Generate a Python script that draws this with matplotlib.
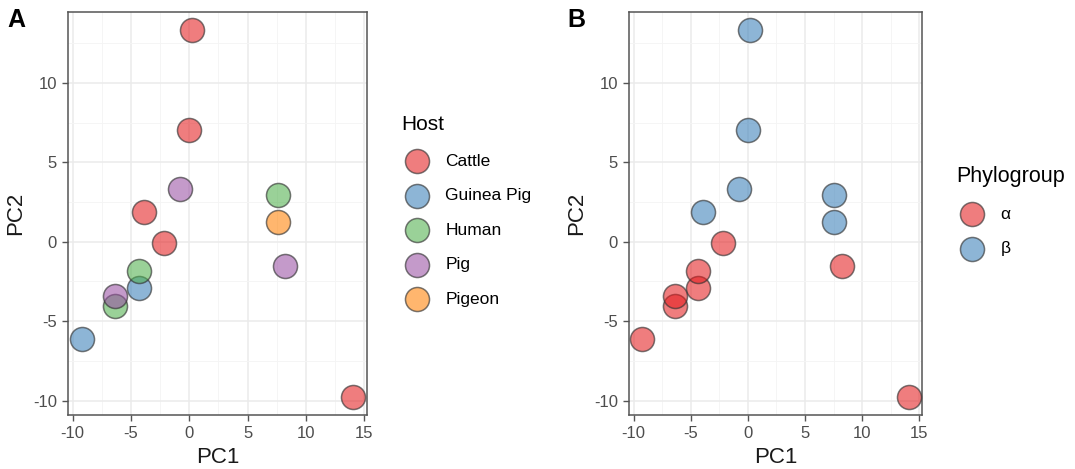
import matplotlib
matplotlib.use("Agg")
import matplotlib.pyplot as plt
import numpy as np

plt.rcParams['font.family'] = ['Liberation Sans', 'DejaVu Sans']

pc1 = [0.2, 0.0, -3.9, -2.2, 14.06, -9.23, -4.34, -4.34, -6.4, 7.57, -0.8, -6.4, 8.23, 7.57]
pc2 = [13.3, 7.0, 1.85, -0.08, -9.75, -6.15, -2.94, -1.83, -4.06, 2.96, 3.33, -3.4, -1.52, 1.25]
host = ["Cattle", "Cattle", "Cattle", "Cattle", "Cattle", "Guinea Pig", "Guinea Pig",
        "Human", "Human", "Human", "Pig", "Pig", "Pig", "Pigeon"]
phylo = ["β", "β", "β", "α", "α", "α", "α", "α", "α", "β", "β", "α", "α", "β"]

host_levels = ["Cattle", "Guinea Pig", "Human", "Pig", "Pigeon"]
host_colors = ["#E41A1C", "#377EB8", "#4DAF4A", "#984EA3", "#FF7F00"]
phylo_levels = ["α", "β"]
phylo_colors = ["#E41A1C", "#377EB8"]

x_ticks = [-10, -5, 0, 5, 10, 15]
y_ticks = [-10, -5, 0, 5, 10]

W, H = 1075, 469
fig = plt.figure(figsize=(W / 100, H / 100), dpi=100)

def px_axes(l, r, t, b):
    return fig.add_axes([l / W, 1 - b / H, (r - l) / W, (b - t) / H])

axA = px_axes(68, 367, 12, 415)
axB = px_axes(629, 922, 12, 415)

FA = 0.57
EDGE = (0.2, 0.2, 0.2, 0.65)
S = 300

def style(ax):
    xmin, xmax = min(pc1), max(pc1)
    ymin, ymax = min(pc2), max(pc2)
    ex = 0.05 * (xmax - xmin)
    ey = 0.05 * (ymax - ymin)
    ax.set_xlim(xmin - ex, xmax + ex)
    ax.set_ylim(ymin - ey, ymax + ey)
    ax.set_xticks(x_ticks)
    ax.set_yticks(y_ticks)
    ax.set_xticks([-7.5, -2.5, 2.5, 7.5, 12.5], minor=True)
    ax.set_yticks([-7.5, -2.5, 2.5, 7.5, 12.5], minor=True)
    ax.set_xticklabels([str(v) for v in x_ticks])
    ax.set_yticklabels([str(v) for v in y_ticks])
    ax.grid(which='major', color='#EBEBEB', lw=1.1, zorder=0)
    ax.grid(which='minor', color='#F4F4F4', lw=0.6, zorder=0)
    ax.set_axisbelow(True)
    for sp in ax.spines.values():
        sp.set_color('#555555')
        sp.set_linewidth(1.1)
    ax.tick_params(which='major', length=4, width=1.0, color='#555555',
                   labelsize=12, labelcolor='#4D4D4D', pad=4)
    ax.tick_params(which='minor', length=0)
    ax.set_xlabel("PC1", fontsize=16, color='#1A1A1A', labelpad=4.5)
    ax.set_ylabel("PC2", fontsize=16, color='#1A1A1A', labelpad=5)

LEG = dict(frameon=False, fontsize=12.5, labelspacing=1.12, handlelength=1.85,
           handletextpad=0.7, borderpad=0, borderaxespad=0, loc='upper left',
           bbox_transform=fig.transFigure)

# Panel A
for lev, col in zip(host_levels, host_colors):
    xs = [x for x, h in zip(pc1, host) if h == lev]
    ys = [y for y, h in zip(pc2, host) if h == lev]
    rgb = matplotlib.colors.to_rgb(col)
    axA.scatter(xs, ys, s=S, facecolor=(*rgb, FA), edgecolor=EDGE, linewidth=1.1,
                label=lev, zorder=3)
style(axA)
legA = axA.legend(bbox_to_anchor=(401 / W, 1 - 115 / H), title="Host",
                  title_fontsize=15, **LEG)
legA._legend_box.align = "left"

# Panel B
for lev, col in zip(phylo_levels, phylo_colors):
    xs = [x for x, p in zip(pc1, phylo) if p == lev]
    ys = [y for y, p in zip(pc2, phylo) if p == lev]
    rgb = matplotlib.colors.to_rgb(col)
    axB.scatter(xs, ys, s=S, facecolor=(*rgb, FA), edgecolor=EDGE, linewidth=1.1,
                label=lev, zorder=3)
style(axB)
legB = axB.legend(bbox_to_anchor=(956 / W, 1 - 166 / H), title="Phylogroup",
                  title_fontsize=15.5, **LEG)
legB._legend_box.align = "left"

fig.text(7 / W, 1 - 20 / H, "A", fontsize=18, fontweight='bold', va='center', ha='left')
fig.text(567 / W, 1 - 20 / H, "B", fontsize=18, fontweight='bold', va='center', ha='left')

fig.savefig("out.png", dpi=100)
